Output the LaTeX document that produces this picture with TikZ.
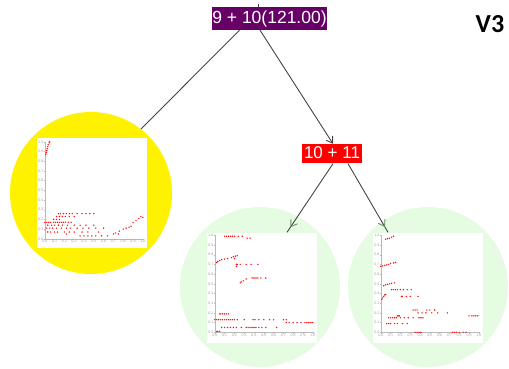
\documentclass[tikz,border=0pt]{standalone}
\usepackage{fontspec}
\setmainfont{Liberation Sans}
\newfontfamily\vfont{Carlito}
\usetikzlibrary{arrows.meta,decorations.markings}
\definecolor{rootpurple}{HTML}{660066}
\definecolor{lgreen}{HTML}{E6FCE2}
\definecolor{edgegray}{HTML}{444444}
\definecolor{tipgreen}{HTML}{6E8E6E}
\definecolor{dotred}{HTML}{FF1010}
\newcommand{\plotaxes}{%
  \draw[axline] (0,0) -- (0,1) (0,0) -- (1,0);
  \foreach \i/\t in {0/0.0,1/0.1,2/0.2,3/0.3,4/0.4,5/0.5,6/0.6,7/0.7,8/0.8,9/0.9,10/1.0}{
    \draw[axline] (0,\i/10) -- ++(-1.2pt,0pt);
    \draw[axline] (\i/10,0) -- ++(0pt,-1.2pt);
    \node[ticklab,anchor=east,xshift=-1.2pt] at (0,\i/10) {\t};
    \node[ticklab,anchor=north,yshift=-1.2pt] at (\i/10,0) {\t};
  }}
\newcommand{\dotrow}[2]{\foreach \xx in {#2} {\fill[dotred] (\xx,#1) circle[radius=0.8pt];}}
\newcommand{\dotpts}[1]{\foreach \xx/\yy in {#1} {\fill[dotred] (\xx,\yy) circle[radius=0.8pt];}}
\begin{document}
\begin{tikzpicture}[x=1pt,y=-1pt,
  rootbox/.style={fill=rootpurple,text=white,font=\fontsize{17.5}{20}\selectfont,
    text height=12.8pt,text depth=3.7pt,inner xsep=0.6pt,inner ysep=3pt},
  redbox/.style={fill=red,text=white,font=\fontsize{17}{20}\selectfont,
    text height=12.4pt,text depth=3.4pt,inner xsep=2.5pt,inner ysep=1.8pt},
  bubble/.style={circle,inner sep=0pt,minimum size=#1},
  plotbox/.style={fill=white,inner sep=0pt,minimum width=110pt,minimum height=110pt},
  edge/.style={draw=edgegray,line width=0.9pt},
  axline/.style={draw=gray!55,line width=0.35pt},
  ticklab/.style={text=gray!75,font=\fontsize{3.6}{4}\selectfont,inner sep=0pt},
  midtip/.style={postaction={decorate},decoration={markings,
     mark=at position -6pt with {\arrow[tipgreen,line width=0.9pt]{Straight Barb[length=6pt,width=8pt]}}}}
]
\useasboundingbox (0,0) rectangle (509,368);

% bubbles
\node[bubble=162pt,fill=yellow] (cL) at (91,193) {};
\node[bubble=160pt,fill=lgreen] (cM) at (260,287) {};
\node[bubble=160pt,fill=lgreen] (cR) at (428,287) {};

% plot frames
\node[plotbox] (pL) at (92,193) {};
\node[plotbox] (pM) at (262,287.5) {};
\node[plotbox] (pR) at (428,287.5) {};

% labels
\node[rootbox] (root) at (269.5,18.7) {9 + 10(121.00)};
\node[redbox] (n1011) at (332,153.7) {10 + 11};
\node[font=\vfont\bfseries\fontsize{26}{26}\selectfont,inner sep=0pt] (v3) at (490,24) {V3};

% connectors
\coordinate (stub) at (258,3.5);
\draw[edge] (stub) -- ([xshift=-11.5pt]root.north);
\draw[edge] ([xshift=28pt]root.south west) -- (cL.52);
\draw[edge,-{Straight Barb[length=6pt,width=8pt]}] ([xshift=-9.5pt]root.south) -- ([xshift=1pt]n1011.north);
\draw[edge,midtip] ([xshift=1pt]n1011.south) -- ([xshift=25pt]pM.north);
\draw[edge,midtip] ([xshift=16pt]n1011.south) -- ([xshift=-40pt]pR.north);

% left plot
\begin{scope}[shift={(pL.north west)},xshift=8pt,yshift=-101pt,x=98pt,y=97pt]
\plotaxes
\dotpts{0.01/0.87,0.015/0.89,0.02/0.91,0.025/0.93,0.03/0.95,0.035/0.97,0.045/0.99,0.05/1.0}
\dotrow{0.26}{0.14,0.16,0.19,0.22,0.25,0.28,0.33,0.38,0.42,0.46,0.50}
\dotrow{0.23}{0.12,0.15,0.18,0.21,0.25,0.30}
\dotrow{0.20}{0.09,0.12,0.15}
\dotrow{0.17}{0.0,0.02,0.04,0.06,0.09,0.11,0.13,0.15,0.17,0.19,0.21,0.24,0.27}
\dotrow{0.14}{0.03,0.07,0.1,0.14,0.18,0.23,0.3,0.36,0.42,0.5}
\dotrow{0.11}{0.02,0.05,0.08,0.12,0.17,0.22,0.26,0.33,0.39,0.45,0.52,0.6}
\dotrow{0.07}{0.03,0.06,0.1,0.13,0.2,0.25,0.3,0.38,0.44,0.55}
\dotrow{0.03}{0.36,0.4,0.44,0.48,0.52,0.58,0.64}
\dotrow{0.05}{0.22,0.7,0.75}
\dotpts{0.72/0.06,0.76/0.08,0.8/0.1,0.83/0.11,0.86/0.12,0.88/0.13,0.9/0.17,0.93/0.19,0.96/0.21,0.98/0.23,1.0/0.22}
\end{scope}

% middle plot
\begin{scope}[shift={(pM.north west)},xshift=8pt,yshift=-100pt,x=98pt,y=97pt]
\plotaxes
\dotrow{0.99}{0.10,0.12,0.14,0.16,0.18,0.20,0.24,0.28}
\dotrow{0.97}{0.33,0.36}
\dotpts{0.02/0.72,0.03/0.73,0.05/0.74,0.07/0.75,0.1/0.755,0.13/0.76,0.17/0.77,0.19/0.78,0.21/0.785,0.23/0.79,0.2/0.76}
\dotrow{0.70}{0.22,0.23,0.26,0.32,0.37,0.44}
\dotpts{0.22/0.68}
\dotpts{0.26/0.51,0.27/0.52,0.29/0.53,0.32/0.55,0.38/0.56,0.40/0.56,0.42/0.56,0.44/0.56,0.47/0.56,0.52/0.56}
\dotrow{0.19}{0.05,0.06,0.08,0.10,0.12,0.14}
\dotrow{0.13}{0.0,0.02,0.04,0.06,0.08,0.1,0.12,0.14,0.16,0.18,0.2,0.23,0.3,0.39,0.41,0.45,0.5,0.56,0.6,0.7,0.73}
\dotrow{0.10}{0.73,0.76,0.8,0.84,0.88,0.92,0.94,0.96,0.98,1.0}
\dotrow{0.05}{0.07,0.1,0.13,0.16,0.19,0.22,0.27,0.32,0.34,0.36,0.38,0.4,0.42,0.45,0.48,0.52,0.63}
\dotrow{0.01}{0.02,0.03,0.05}
\end{scope}

% right plot
\begin{scope}[shift={(pR.north west)},xshift=8pt,yshift=-100pt,x=98pt,y=97pt]
\plotaxes
\dotpts{0.05/0.96,0.07/0.965,0.09/0.97,0.11/0.98,0.13/0.99}
\dotpts{0.0/0.68,0.02/0.685,0.04/0.69,0.06/0.695,0.08/0.70,0.10/0.71,0.13/0.715,0.15/0.72}
\dotpts{0.03/0.48,0.05/0.49,0.07/0.495,0.09/0.50,0.11/0.505,0.14/0.51}
\dotrow{0.44}{0.11,0.13,0.15,0.17,0.2,0.23,0.27,0.31}
\dotpts{0.01/0.34,0.02/0.355,0.03/0.37,0.04/0.385,0.05/0.39}
\dotrow{0.37}{0.21,0.22,0.26,0.3,0.38}
\dotrow{0.23}{0.33,0.35,0.37,0.47,0.5,0.55}
\dotrow{0.20}{0.38,0.42,0.46,0.52,0.58,0.68}
\dotrow{0.17}{0.17,0.18,0.19,0.9,0.93,0.95,0.97,0.99}
\dotrow{0.15}{0.08,0.1,0.12,0.14,0.16,0.2,0.24,0.28,0.33,0.39,0.41,0.43}
\dotrow{0.09}{0.06,0.08,0.1,0.14,0.17,0.22,0.27}
\dotrow{0.0}{0.35,0.37,0.39,0.41,0.73,0.75,0.77,0.8,0.84,0.87}
\end{scope}
\end{tikzpicture}
\end{document}
